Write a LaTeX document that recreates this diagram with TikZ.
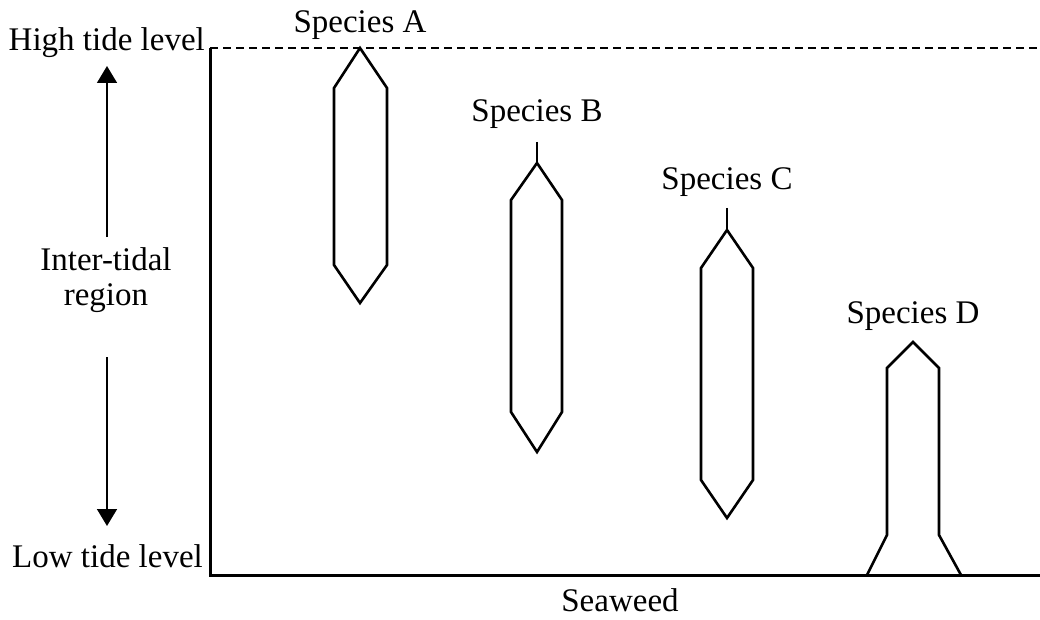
\documentclass[tikz,border=0pt]{standalone}
\usepackage{fontspec}
\setmainfont{Liberation Serif}
\usetikzlibrary{arrows.meta}
\begin{document}
\begin{tikzpicture}[x=1pt,y=-1pt,
  lbl/.style={inner sep=0pt,anchor=base,font=\fontsize{33}{38}\selectfont},
  axis/.style={line width=3pt},
  frond/.style={line width=2.6pt,line join=miter},
  tideline/.style={line width=1.4pt,dash pattern=on 8pt off 5pt},
  levelarrow/.style={line width=1.6pt,-{Triangle[length=17pt,width=20pt]}}]
\useasboundingbox (0,0) rectangle (1040,620);

% axes and high tide mark
\coordinate (origin) at (210,575);
\coordinate (ytop) at (210,48);
\coordinate (xend) at (1040,575);
\coordinate (hend) at (1040,48);
\draw[axis] (ytop) -- (origin) -- (xend);
\draw[tideline] (ytop) -- (hend);

% level labels
\node[lbl,anchor=base east] (high) at (205,51) {High tide level};
\node[lbl,anchor=base east] (low) at (203,567) {Low tide level};
\node[lbl] (inter) at (106,270) {Inter-tidal};
\node[lbl] (region) at (106,305) {region};
\coordinate (upfrom) at (107,237);
\coordinate (upto) at (107,66);
\coordinate (downfrom) at (107,357);
\coordinate (downto) at (107,526);
\draw[levelarrow] (upfrom) -- (upto);
\draw[levelarrow] (downfrom) -- (downto);
\node[lbl] (seaweed) at (620,611) {Seaweed};

% species ranges
\node[lbl] (spA) at (360,33) {Species A};
\draw[frond] (360,48) -- (387,88) -- (387,265) -- (360,303) -- (334,265) -- (334,88) -- cycle;

\node[lbl] (spB) at (537,122) {Species B};
\draw[frond] (537,142) -- (537,163);
\draw[frond] (537,163) -- (562,200) -- (562,412) -- (537,452) -- (511,412) -- (511,200) -- cycle;

\node[lbl] (spC) at (727,190) {Species C};
\draw[frond] (727,208) -- (727,230);
\draw[frond] (727,230) -- (753,268) -- (753,480) -- (727,518) -- (701,480) -- (701,268) -- cycle;

\node[lbl] (spD) at (913,323) {Species D};
\draw[frond] (867,575) -- (887,535) -- (887,368) -- (913,342) -- (939,368) -- (939,535) -- (961,575);
\end{tikzpicture}
\end{document}
